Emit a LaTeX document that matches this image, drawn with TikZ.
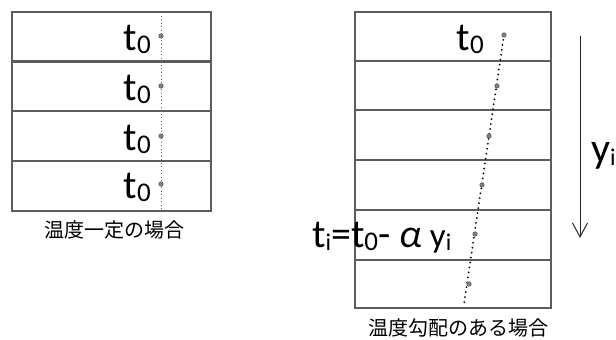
\documentclass[tikz,border=0pt]{standalone}
\usepackage{fontspec}
\usetikzlibrary{arrows.meta}
\setmainfont{Carlito}[Numbers=Lining]
\newfontfamily\jp{Noto Sans CJK JP}
\newcommand\subz[2]{\raisebox{-3.5pt}{\fontsize{#1}{#1}\selectfont #2}}
\begin{document}
\begin{tikzpicture}[x=1pt,y=-1pt,
  cell/.style={draw=black!64,line width=2.6pt},
  dotpt/.style={circle,fill=black!50,draw=black!65,line width=0.5pt,inner sep=0pt,minimum size=4.5pt},
  tlab/.style={font=\fontsize{40}{42}\selectfont,inner sep=0pt,anchor=base east},
  captext/.style={font=\jp\fontsize{20}{22}\selectfont,inner sep=0pt}]
\useasboundingbox (0,0) rectangle (616,340);
% left table
\foreach \i/\a/\b in {1/12/61.5,2/61.5/111,3/111/161,4/161/211}{
  \draw[cell] (12,\a) rectangle (211,\b);
}
\coordinate (lt) at (161,12);
\coordinate (lb) at (161,211);
\draw[black!60,line width=0.7pt,dash pattern=on 0.7pt off 2.8pt] (lt) -- (lb);
\foreach \i/\y in {1/36,2/86,3/136,4/184}{
  \node[dotpt] (ld\i) at (161,\y) {};
  \node[tlab] (lt\i) at (151,\y+14) {t\subz{27}{0}};
}
\node[captext] (capl) at (114,230) {温度一定の場合};
% right table
\foreach \a/\b in {12/61,61/110,110/160,160/210,210/260,260/308}{
  \draw[cell] (355,\a) rectangle (551,\b);
}
\coordinate (rt) at (504,35);
\coordinate (rb) at (464,304);
\draw[black,line width=2pt,dash pattern=on 0pt off 5pt,line cap=round] (rt) -- (rb);
\foreach \i/\x/\y in {1/504/35,2/497/86,3/489/136,4/482/185,5/475/234,6/469/284}{
  \node[dotpt] (rd\i) at (\x,\y) {};
}
\node[tlab] (rt0) at (484,50) {t\subz{27}{0}};
\node[font=\fontsize{40}{42}\selectfont,inner sep=0pt,anchor=base west] (form) at (312,247)
  {t\subz{24}{i}=t\subz{27}{0}-\hspace{9pt}{\itshape α}\hspace{8pt}{\fontsize{35}{35}\selectfont y\subz{24}{i}}};
\coordinate (as) at (580,36);
\coordinate (ae) at (580,238);
\draw[black!85,line width=1pt,-{Straight Barb[length=14pt,width=15pt,line width=1pt]}] (as) -- (ae);
\node[font=\fontsize{42}{44}\selectfont,inner sep=0pt,anchor=base west] (yi) at (591,162) {y\subz{24}{i}};
\node[captext] (capr) at (458,328) {温度勾配のある場合};
\end{tikzpicture}
\end{document}
